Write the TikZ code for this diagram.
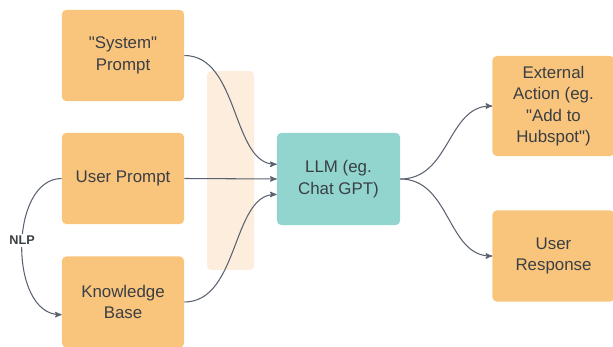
\documentclass[tikz,border=0pt]{standalone}
\usepackage{fontspec}
\setmainfont{Liberation Sans}
\usepackage{tikz}
\usetikzlibrary{arrows}
\usepackage{xcolor}
\definecolor{boxorange}{HTML}{F9C47C}
\definecolor{boxteal}{HTML}{92D5CE}
\definecolor{bandpeach}{HTML}{FDEDDC}
\definecolor{textgrey}{HTML}{3A3F44}
\definecolor{linegrey}{HTML}{5A6270}

\begin{document}
\begin{tikzpicture}[x=0.025cm,y=-0.025cm,>=stealth']
\tikzset{
    src/.style={%
        fill=boxorange, draw=none,
        rectangle,
        rounded corners=3pt,
        minimum height=2.275cm,
        minimum width=3.05cm,
        text=textgrey, align=center,
        font=\fontsize{12}{15.2}\selectfont
        },
    llm/.style={%
        src, fill=boxteal,
        minimum width=3.075cm,
        minimum height=2.3cm
        },
    flow/.style={%
        ->, draw=linegrey, line width=0.75pt
        },
}
\useasboundingbox (0,0) rectangle (613,347);
%%%BAND
\fill[bandpeach, rounded corners=3pt] (207,71) rectangle (254,270);
%%%INPUTS
\node[src] (sys) at (123,55.5) {\textquotedbl System\textquotedbl\\Prompt};
\node[src] (up)  at (123,178.5) {User Prompt};
\node[src] (kb)  at (123,302) {Knowledge\\Base};
%%%MODEL
\node[llm] (gpt) at (338.5,179) {LLM (eg.\\Chat GPT)};
%%%OUTPUTS
\node[src, minimum height=2.5cm] (act) at (553.5,106) {External\\Action (eg.\\\textquotedbl Add to\\Hubspot\textquotedbl)};
\node[src] (resp) at (553.5,256) {User\\Response};
%%%ARROWS IN
\draw[flow] (sys.east) .. controls +(55,0) and +(-45,0) .. ([yshift=10.5pt]gpt.west);
\draw[flow] (up.east) -- (gpt.west);
\draw[flow] (kb.east) .. controls +(55,0) and +(-45,0) .. ([yshift=-11pt]gpt.west);
%%%ARROWS OUT
\draw[flow] (gpt.east) .. controls +(50,0) and +(-45,0) .. (act.west);
\draw[flow] (gpt.east) .. controls +(50,0) and +(-45,0) .. (resp.west);
%%%NLP
\draw[flow] (up.west) .. controls +(-53,0) and +(-53,0) .. ([yshift=-9pt]kb.west)
  node[pos=0.47, fill=white, inner sep=1.5pt, text=textgrey,
       font=\bfseries\fontsize{9}{10}\selectfont] (nlp) {NLP};
\end{tikzpicture}
\end{document}
